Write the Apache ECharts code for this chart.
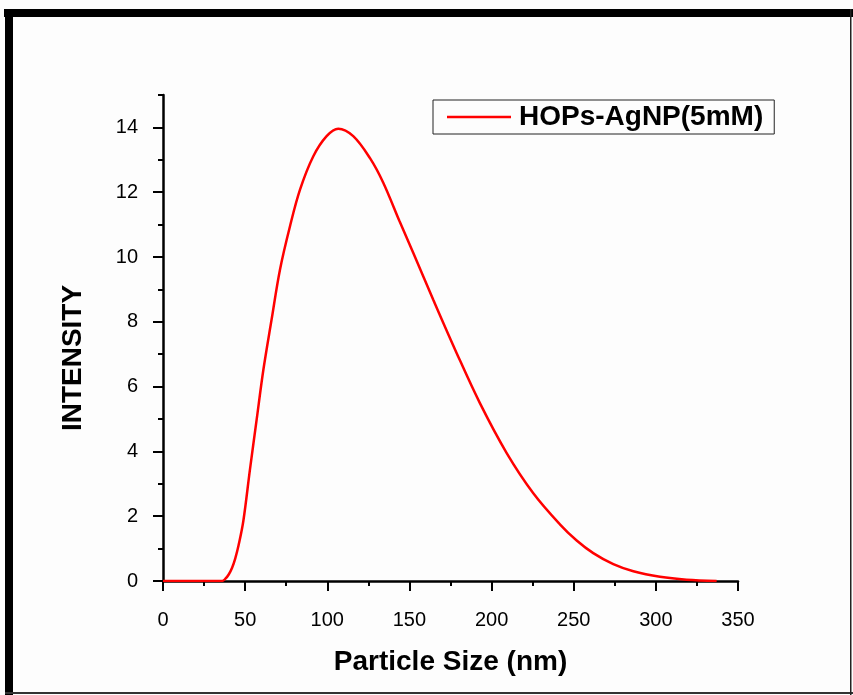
<!DOCTYPE html>
<html>
<head>
<meta charset="utf-8">
<script src="https://cdn.jsdelivr.net/npm/echarts@6/dist/echarts.min.js"></script>
<style>
html,body{margin:0;padding:0;background:#fdfdfd;}
#chart{width:853px;height:695px;}
</style>
</head>
<body>
<div id="chart"></div>
<script>
// Particle size (nm) and DLS intensity
const sizeNm = [0, 10, 20, 30, 36, 38, 40, 42, 44, 46, 48.9, 52.9, 57, 61.1, 66.1, 71.2, 77.3, 83.4, 91.5, 99.6, 106.7, 115.8, 126, 134, 144, 152.3, 164.5, 178.7, 192.9, 209.2, 225.4, 241.6, 251.8, 261.9, 274.1, 286.3, 302.5, 318.7, 337];
const intensity = [0, 0, 0, 0, 0, 0.07, 0.2, 0.4, 0.7, 1.1, 1.85, 3.43, 4.98, 6.52, 8.07, 9.61, 10.95, 12.08, 13.11, 13.73, 13.96, 13.73, 13.05, 12.3, 11.1, 10.13, 8.68, 7.04, 5.49, 3.95, 2.71, 1.75, 1.25, 0.86, 0.52, 0.3, 0.13, 0.04, 0];
const seriesName = 'HOPs-AgNP(5mM)';
const xTitle = 'Particle Size (nm)';
const yTitle = 'INTENSITY';
const yMajorTicks = [0, 2, 4, 6, 8, 10, 12, 14];

const FONT = '"Liberation Sans", Arial, sans-serif';
const chart = echarts.init(document.getElementById('chart'));
const points = sizeNm.map((x, i) => [x, intensity[i]]);

chart.setOption({
  backgroundColor: '#fdfdfd',
  animation: false,
  grid: { left: 163, right: 115, top: 95, bottom: 114, containLabel: false },
  legend: {
    left: 433, top: 100,
    padding: [3, 11, 3, 14],
    borderColor: '#222', borderWidth: 1,
    itemWidth: 64, itemHeight: 2.5,
    textStyle: { color: '#000', fontSize: 28, fontWeight: 'bold', fontFamily: FONT, padding: [0, 0, 0, 3] },
    data: [{ name: seriesName, icon: 'rect' }]
  },
  xAxis: {
    type: 'value', min: 0, max: 350, interval: 50,
    name: xTitle, nameLocation: 'middle', nameGap: 67,
    nameTextStyle: { color: '#000', fontSize: 28, fontWeight: 'bold', fontFamily: FONT },
    axisLine: { show: true, onZero: false, lineStyle: { color: '#000', width: 2.5 } },
    axisTick: { show: true, inside: false, length: 10, lineStyle: { color: '#000', width: 2 } },
    minorTick: { show: true, splitNumber: 2, length: 5, lineStyle: { color: '#000', width: 2 } },
    axisLabel: { color: '#000', fontSize: 20, fontFamily: FONT, margin: 29 },
    splitLine: { show: false }, minorSplitLine: { show: false }
  },
  yAxis: [{
    type: 'value', min: 0, max: 15, interval: 1,
    name: yTitle, nameLocation: 'middle', nameGap: 76,
    nameTextStyle: { color: '#000', fontSize: 28, fontWeight: 'bold', fontFamily: FONT, padding: [0, 40, 0, 0] },
    axisLine: { show: true, onZero: false, lineStyle: { color: '#000', width: 2.5 } },
    axisTick: { show: true, inside: false, length: 5, lineStyle: { color: '#000', width: 2 } },
    axisLabel: { color: '#000', fontSize: 20, fontFamily: FONT, margin: 25,
      formatter: v => (yMajorTicks.indexOf(v) >= 0 ? String(v) : '') },
    splitLine: { show: false }
  }, {
    type: 'value', min: 0, max: 15, interval: 1, position: 'left',
    axisLine: { show: false },
    axisTick: { show: true, inside: false, length: 10, customValues: yMajorTicks, lineStyle: { color: '#000', width: 2 } },
    axisLabel: { show: false },
    splitLine: { show: false }
  }],
  series: [{
    name: seriesName, type: 'line', data: points,
    symbol: 'none', smooth: 0.35,
    lineStyle: { color: '#ff0000', width: 2.5 }, itemStyle: { color: '#ff0000' },
    z: 3
  }],
  graphic: [
    { type: 'rect', shape: { x: 4, y: 9, width: 849, height: 8 }, style: { fill: '#000' }, silent: true },
    { type: 'rect', shape: { x: 5, y: 9, width: 8, height: 686 }, style: { fill: '#000' }, silent: true },
    { type: 'rect', shape: { x: 5, y: 692, width: 848, height: 2 }, style: { fill: '#333' }, silent: true },
    { type: 'rect', shape: { x: 850, y: 9, width: 1.5, height: 686 }, style: { fill: '#222' }, silent: true }
  ]
});
</script>
</body>
</html>
